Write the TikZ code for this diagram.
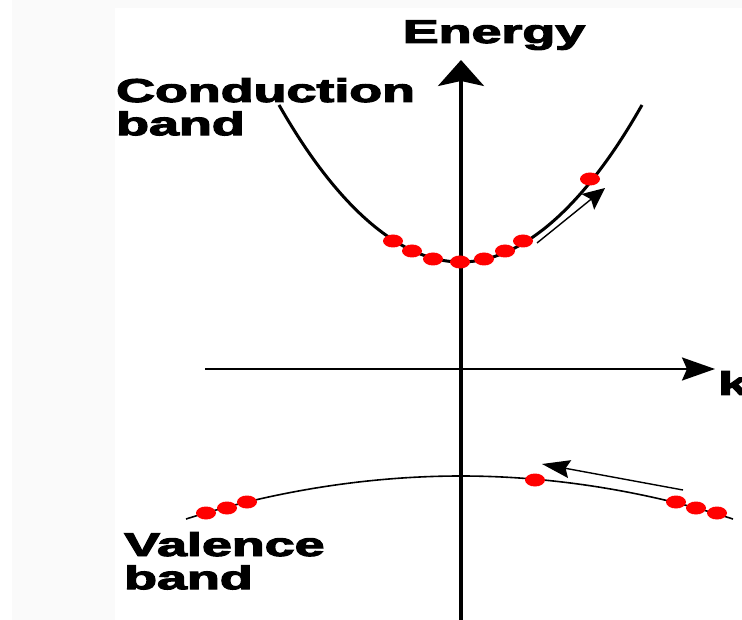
\documentclass[tikz,border=0pt]{standalone}
\usepackage{fontspec}
\setmainfont{Liberation Sans}[BoldFeatures={FakeBold=3}]
\usepackage{graphicx}
\usepackage{tikz}
\usetikzlibrary{arrows.meta}
\definecolor{carrierred}{RGB}{255,0,0}
\definecolor{stripgray}{RGB}{250,250,250}
\newcommand{\widetext}[1]{\scalebox{1.63}[1]{#1}}
\tikzset{
  kaxis/.style={line width=2.5pt, -{Stealth[length=33pt, width=23pt, inset=5pt]}},
  eaxis/.style={line width=3.5pt, -{Stealth[length=26pt, width=46pt, inset=5pt]}},
  bandcurve/.style={line width=3pt},
  carrier/.style={fill=carrierred},
  drift/.style={line width=1.4pt, -{Stealth[length=22pt, width=20pt, inset=4pt]}},
  bandtext/.style={font=\fontsize{33}{31}\selectfont\bfseries, inner sep=0pt, anchor=base west},
}
\begin{document}
\begin{tikzpicture}[x=1pt, y=-1pt]
\useasboundingbox (0,0) rectangle (742,620);
\clip (0,0) rectangle (742,620);
\fill[stripgray] (12,0) rectangle (115,620);
\fill[stripgray] (115,0) rectangle (742,8);
\coordinate (eorigin) at (461,620);
\coordinate (etip) at (461,60);
\coordinate (korigin) at (205,369);
\coordinate (ktip) at (715,369);
\draw[eaxis] (eorigin) -- (etip);
\draw[kaxis] (korigin) -- (ktip);
\node[bandtext, anchor=base] (energy) at (494,43) {\widetext{Energy}};
\node[bandtext] (k) at (718,395) {\widetext{k}};
\node[bandtext] (cond) at (116,102) {\widetext{\begin{tabular}[t]{@{}l@{}}Conduction\\band\end{tabular}}};
\node[bandtext] (val) at (124,556) {\widetext{\begin{tabular}[t]{@{}l@{}}Valence\\band\end{tabular}}};
\draw[bandcurve] (279,105) parabola bend (461,262) (642,105);
\draw[line width=1.6pt] (186,519) parabola bend (461,476) (733,519);
\coordinate (cstart) at (537,243);
\coordinate (cend) at (605,188);
\coordinate (vstart) at (683,490);
\coordinate (vend) at (542,464);
\draw[drift] (cstart) -- (cend);
\draw[drift, -{Stealth[length=28pt, width=18pt, inset=4pt]}] (vstart) -- (vend);
\foreach \x/\y in {393/241, 412/251, 433/259, 460/262, 484/259, 505/251, 523/241, 590/179,
                   206/513, 227/508, 247/502, 535/480, 676/502, 696/508, 717/513}
  \fill[carrier] (\x,\y) ellipse (10 and 6.5);
\end{tikzpicture}
\end{document}
